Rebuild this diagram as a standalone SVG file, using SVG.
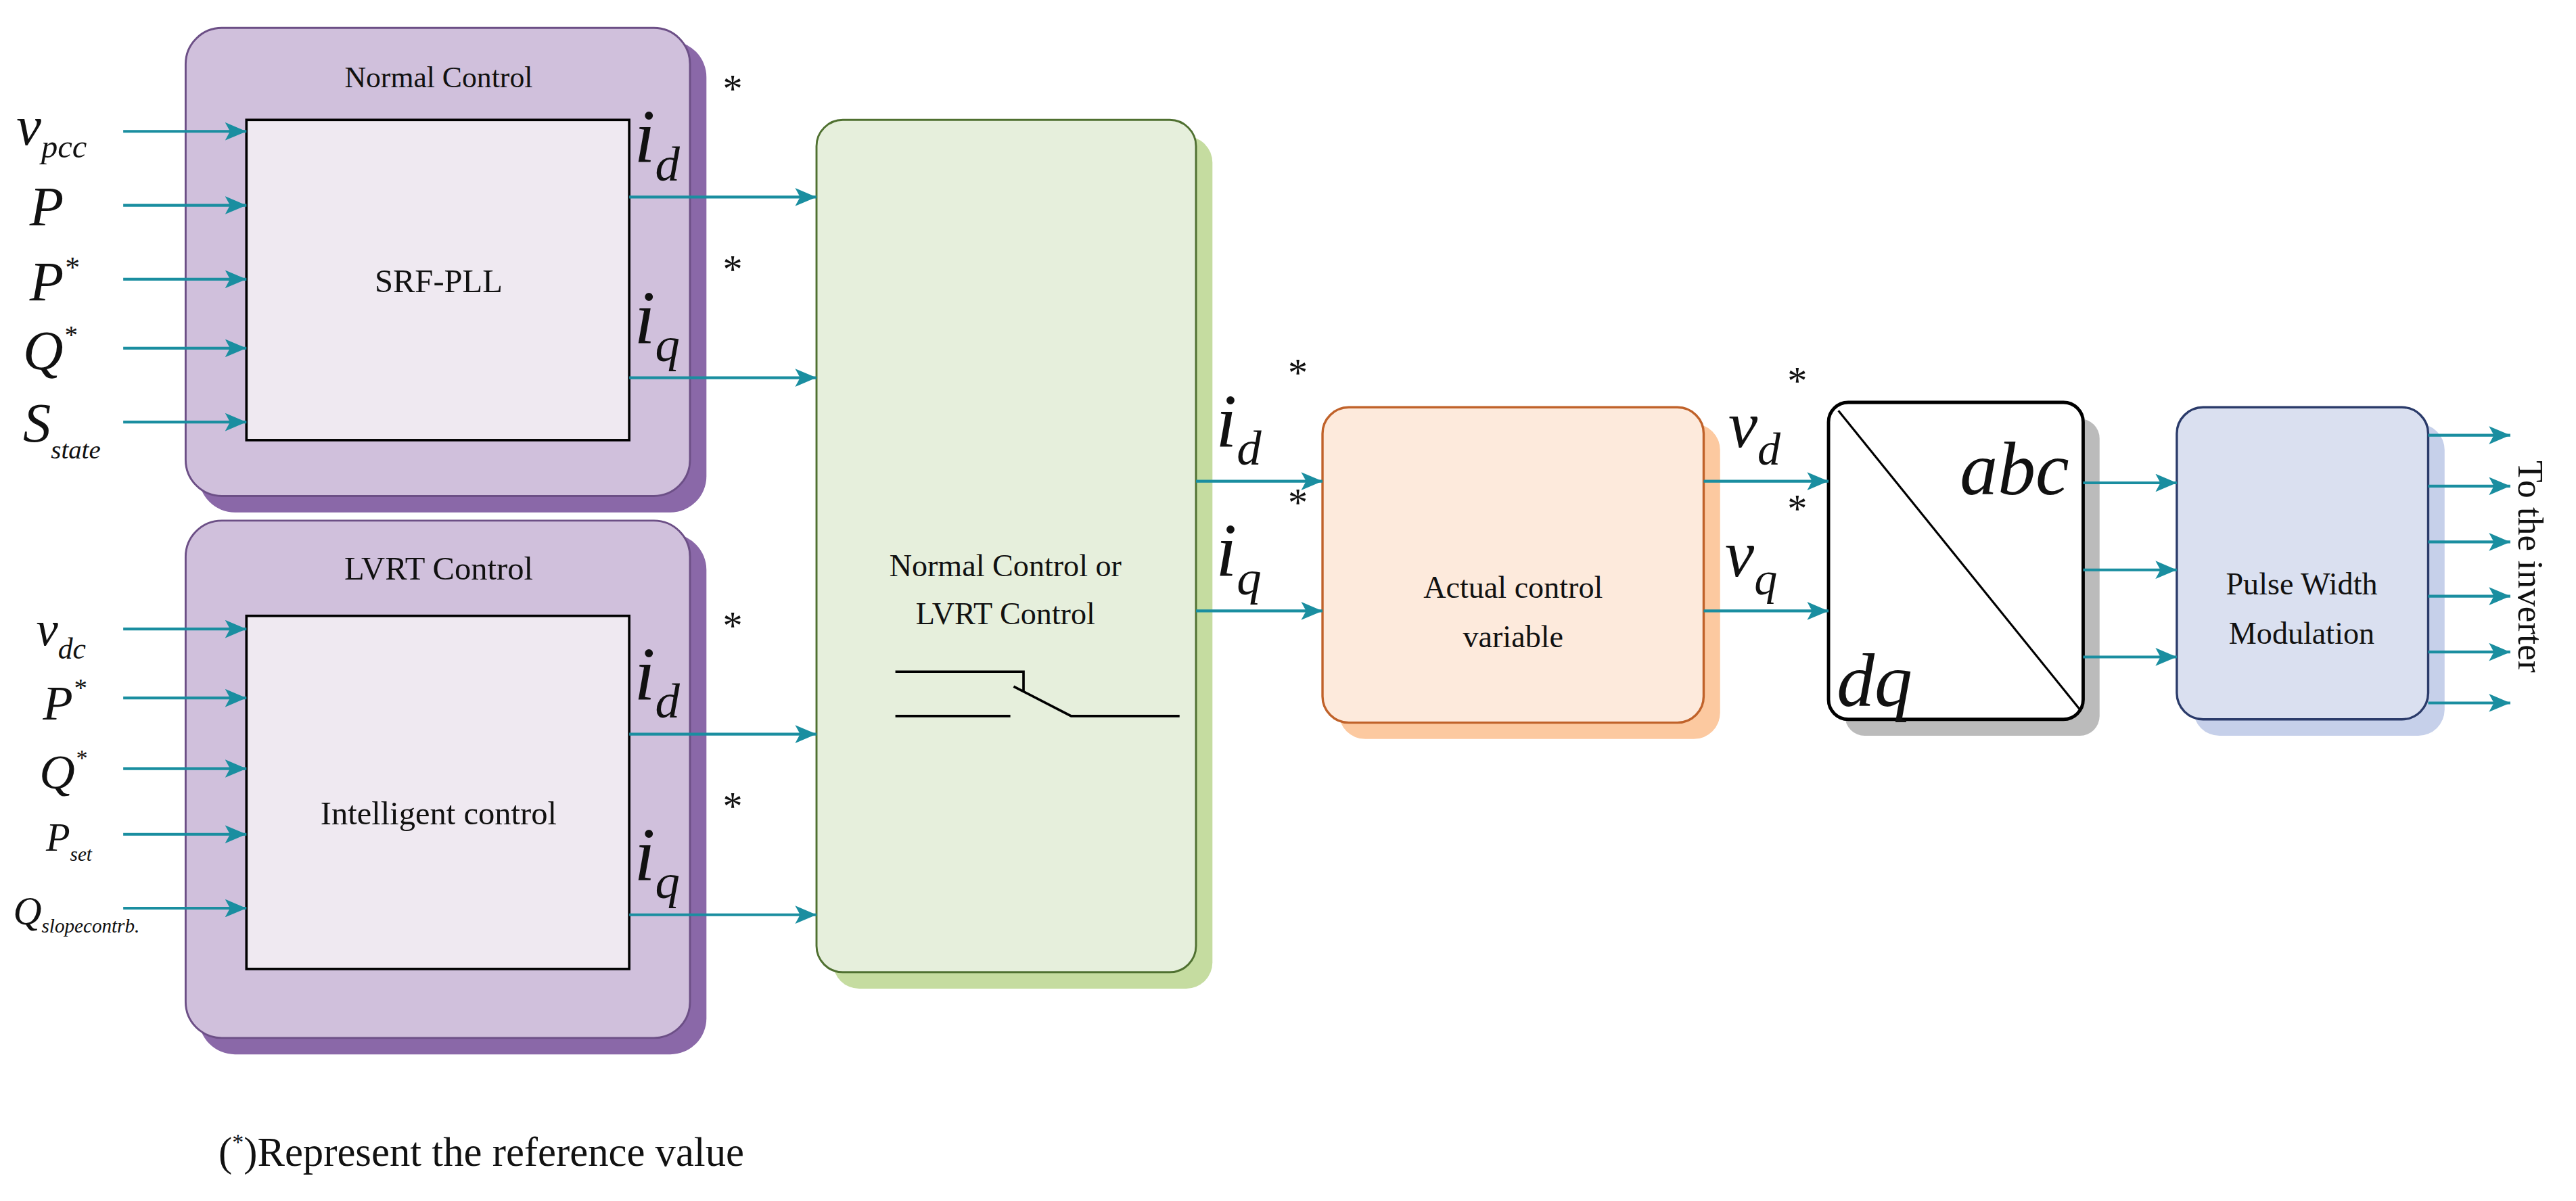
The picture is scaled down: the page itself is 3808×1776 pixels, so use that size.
<svg xmlns="http://www.w3.org/2000/svg" width="3808" height="1776" viewBox="0 0 3808 1776">
<defs>
<style>
.t{font-family:"Liberation Serif",serif;fill:#111}
.it{font-family:"Liberation Serif",serif;font-style:italic;fill:#111}
.w{stroke:#1a8ea0;stroke-width:1.7;fill:none;marker-end:url(#ah)}
</style>
<marker id="ah" markerWidth="13" markerHeight="11" refX="13" refY="5.5" orient="auto" markerUnits="userSpaceOnUse"><path d="M0,0 L13,5.5 L0,11 L3,5.5 Z" fill="#1a8ea0"/></marker>
</defs>
<rect width="3808" height="1776" fill="#fff"/>
<g transform="scale(2.4286)">
<g id="normal">
<rect x="121" y="25" width="309" height="287" rx="22" fill="#8a68a8"/>
<rect x="113" y="17" width="307" height="285" rx="22" fill="#d0c0dc" stroke="#6c4f86" stroke-width="1.2"/>
<text class="t" x="267" y="53" font-size="18" text-anchor="middle">Normal Control</text>
<rect x="150" y="73" width="233" height="195" fill="#efe9f1" stroke="#000" stroke-width="1.5"/>
<text class="t" x="267" y="178" font-size="20" text-anchor="middle">SRF-PLL</text>
</g>
<g id="lvrt">
<rect x="121" y="325" width="309" height="317" rx="22" fill="#8a68a8"/>
<rect x="113" y="317" width="307" height="315" rx="22" fill="#d0c0dc" stroke="#6c4f86" stroke-width="1.2"/>
<text class="t" x="267" y="353" font-size="20" text-anchor="middle">LVRT Control</text>
<rect x="150" y="375" width="233" height="215" fill="#efe9f1" stroke="#000" stroke-width="1.5"/>
<text class="t" x="267" y="502" font-size="20" text-anchor="middle">Intelligent control</text>
</g>
<g id="selector">
<rect x="507" y="83" width="231" height="519" rx="16" fill="#c5dca0"/>
<rect x="497" y="73" width="231" height="519" rx="16" fill="#e6efdc" stroke="#4f7030" stroke-width="1.2"/>
<text class="t" x="612" y="351" font-size="19" text-anchor="middle">Normal Control or</text>
<text class="t" x="612" y="380" font-size="19" text-anchor="middle">LVRT Control</text>
<path d="M545,409 H623 V421 M545,436 H615 M617,418 L652,436 H718" stroke="#000" stroke-width="1.5" fill="none"/>
</g>
<g id="actual">
<rect x="815" y="258" width="232" height="192" rx="16" fill="#fcc9a0"/>
<rect x="805" y="248" width="232" height="192" rx="16" fill="#fdeadc" stroke="#c0622a" stroke-width="1.4"/>
<text class="t" x="921" y="364" font-size="19" text-anchor="middle">Actual control</text>
<text class="t" x="921" y="394" font-size="19" text-anchor="middle">variable</text>
</g>
<g id="dqabc">
<rect x="1123" y="255" width="155" height="193" rx="12" fill="#bbbbbb"/>
<rect x="1113" y="245" width="155" height="193" rx="12" fill="#fff" stroke="#000" stroke-width="2"/>
<line x1="1119" y1="250" x2="1266" y2="432" stroke="#000" stroke-width="1.3"/>
<text class="it" x="1193" y="301" font-size="46">abc</text>
<text class="it" x="1118" y="430" font-size="46">dq</text>
</g>
<g id="pwm">
<rect x="1335" y="258" width="153" height="190" rx="16" fill="#c6d0ea"/>
<rect x="1325" y="248" width="153" height="190" rx="16" fill="#dae0f0" stroke="#2b3b6a" stroke-width="1.4"/>
<text class="t" x="1401" y="362" font-size="19" text-anchor="middle">Pulse Width</text>
<text class="t" x="1401" y="392" font-size="19" text-anchor="middle">Modulation</text>
</g>
<g id="connectors">
<path class="w" d="M75,80 H150"/><path class="w" d="M75,125 H150"/><path class="w" d="M75,170 H150"/><path class="w" d="M75,212 H150"/><path class="w" d="M75,257 H150"/>
<path class="w" d="M75,383 H150"/><path class="w" d="M75,425 H150"/><path class="w" d="M75,468 H150"/><path class="w" d="M75,508 H150"/><path class="w" d="M75,553 H150"/>
<path class="w" d="M383,120 H497"/><path class="w" d="M383,230 H497"/><path class="w" d="M383,447 H497"/><path class="w" d="M383,557 H497"/>
<path class="w" d="M728,293 H805"/><path class="w" d="M728,372 H805"/>
<path class="w" d="M1037,293 H1113"/><path class="w" d="M1037,372 H1113"/>
<path class="w" d="M1268,294 H1325"/><path class="w" d="M1268,347 H1325"/><path class="w" d="M1268,400 H1325"/>
<path class="w" d="M1478,265 H1528"/><path class="w" d="M1478,296 H1528"/><path class="w" d="M1478,330 H1528"/><path class="w" d="M1478,363 H1528"/><path class="w" d="M1478,397 H1528"/><path class="w" d="M1478,428 H1528"/>
</g>
<g id="labels">
<text class="it" x="10" y="88" font-size="34">v<tspan font-size="20" dy="8">pcc</tspan></text>
<text class="it" x="18" y="137" font-size="34">P</text>
<text class="it" x="18" y="183" font-size="34">P<tspan font-size="18" dy="-14">*</tspan></text>
<text class="it" x="14" y="225" font-size="34">Q<tspan font-size="16" dy="-16">*</tspan></text>
<text class="it" x="14" y="269" font-size="34">S<tspan font-size="16" dy="10">state</tspan></text>
<text class="it" x="22" y="393" font-size="30">v<tspan font-size="18" dy="8">dc</tspan></text>
<text class="it" x="26" y="438" font-size="30">P<tspan font-size="16" dy="-14">*</tspan></text>
<text class="it" x="24" y="480" font-size="30">Q<tspan font-size="14" dy="-14">*</tspan></text>
<text class="it" x="28" y="518" font-size="24">P<tspan font-size="12" dy="6">set</tspan></text>
<text class="it" x="8" y="563" font-size="24">Q<tspan font-size="12" dy="5">slopecontrb.</tspan></text>
<text class="it" x="386" y="99" font-size="46">i<tspan font-size="30" dy="11">d</tspan></text><text class="t" x="440" y="62" font-size="24">*</text>
<text class="it" x="386" y="209" font-size="46">i<tspan font-size="30" dy="11">q</tspan></text><text class="t" x="440" y="172" font-size="24">*</text>
<text class="it" x="386" y="426" font-size="46">i<tspan font-size="30" dy="11">d</tspan></text><text class="t" x="440" y="389" font-size="24">*</text>
<text class="it" x="386" y="536" font-size="46">i<tspan font-size="30" dy="11">q</tspan></text><text class="t" x="440" y="499" font-size="24">*</text>
<text class="it" x="740" y="272" font-size="46">i<tspan font-size="30" dy="11">d</tspan></text><text class="t" x="784" y="235" font-size="24">*</text>
<text class="it" x="740" y="351" font-size="46">i<tspan font-size="30" dy="11">q</tspan></text><text class="t" x="784" y="314" font-size="24">*</text>
<text class="it" x="1052" y="272" font-size="40">v<tspan font-size="28" dy="11">d</tspan></text><text class="t" x="1088" y="240" font-size="24">*</text>
<text class="it" x="1050" y="351" font-size="40">v<tspan font-size="28" dy="11">q</tspan></text><text class="t" x="1088" y="318" font-size="24">*</text>
<text class="t" x="1540" y="352" font-size="22" text-anchor="middle" transform="rotate(90 1540 345)">To the inverter</text>
<text class="t" x="133" y="710" font-size="25">(<tspan font-size="14" dy="-10">*</tspan><tspan dy="10">)Represent the reference value</tspan></text>
</g>
</g>
</svg>
